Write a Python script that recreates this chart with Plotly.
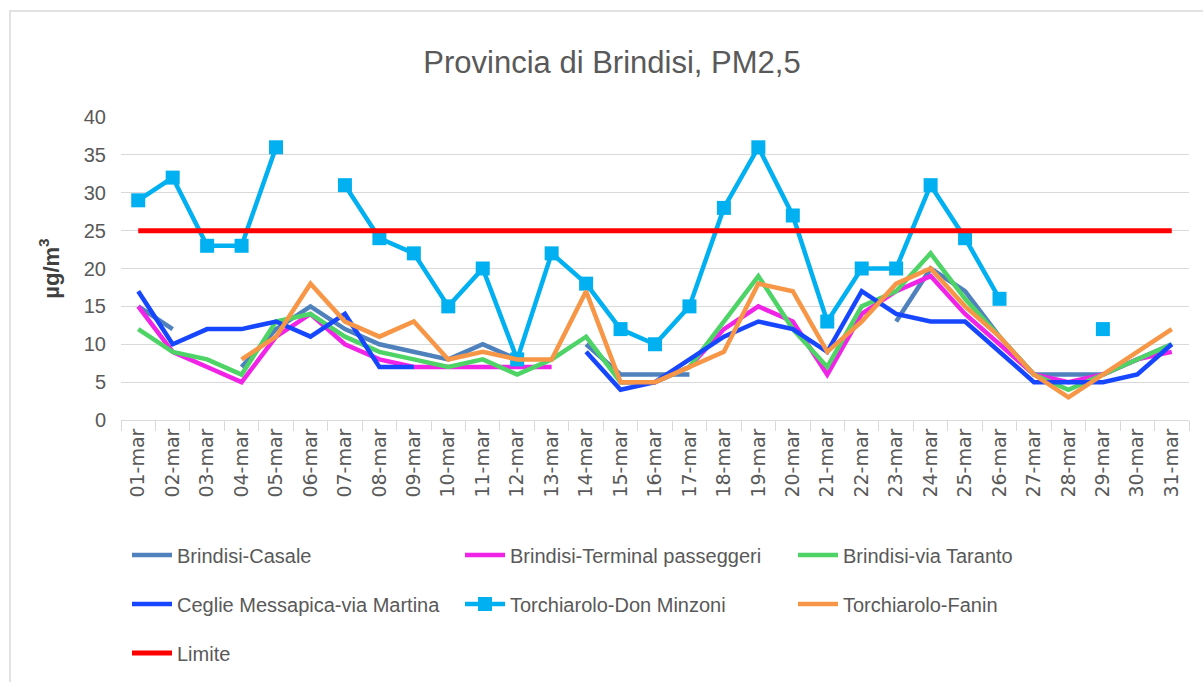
import plotly.graph_objects as go

days = ["01-mar", "02-mar", "03-mar", "04-mar", "05-mar", "06-mar", "07-mar", "08-mar",
        "09-mar", "10-mar", "11-mar", "12-mar", "13-mar", "14-mar", "15-mar", "16-mar",
        "17-mar", "18-mar", "19-mar", "20-mar", "21-mar", "22-mar", "23-mar", "24-mar",
        "25-mar", "26-mar", "27-mar", "28-mar", "29-mar", "30-mar", "31-mar"]

brindisi_casale = [15, 12, None, 7, 12, 15, 12, 10, 9, 8, 10, 8, None, 10, 6, 6,
                   6, None, None, None, None, None, 13, 20, 17, 11, 6, 6, 6, 8, 10]
brindisi_terminal = [15, 9, 7, 5, 11, 14, 10, 8, 7, 7, 7, 7, 7, None, 5, 5,
                     7, 12, 15, 13, 6, 14, 17, 19, 14, 10, 6, 5, 6, 8, 9]
brindisi_taranto = [12, 9, 8, 6, 13, 14, 11, 9, 8, 7, 8, 6, 8, 11, 5, 5,
                    7, 13, 19, 12, 7, 15, 17, 22, 16, 11, 6, 4, 6, 8, 10]
ceglie_martina = [17, 10, 12, 12, 13, 11, 14, 7, 7, None, None, None, None, 9, 4, 5,
                  8, 11, 13, 12, 9, 17, 14, 13, 13, 9, 5, 5, 5, 6, 10]
torchiarolo_minzoni = [29, 32, 23, 23, 36, None, 31, 24, 22, 15, 20, 8, 22, 18, 12, 10,
                       15, 28, 36, 27, 13, 20, 20, 31, 24, 16, None, None, 12, None, None]
torchiarolo_fanin = [None, None, None, 8, 11, 18, 13, 11, 13, 8, 9, 8, 8, 17, 5, 5,
                     7, 9, 18, 17, 9, 13, 18, 20, 15, 11, 6, 3, 6, 9, 12]
limite = [25, 25, 25, 25, 25, 25, 25, 25, 25, 25, 25, 25, 25, 25, 25, 25,
          25, 25, 25, 25, 25, 25, 25, 25, 25, 25, 25, 25, 25, 25, 25]

series_names = ["Brindisi-Casale", "Brindisi-Terminal passeggeri", "Brindisi-via Taranto",
                "Ceglie Messapica-via Martina", "Torchiarolo-Don Minzoni", "Torchiarolo-Fanin",
                "Limite"]
series_values = [brindisi_casale, brindisi_terminal, brindisi_taranto, ceglie_martina,
                 torchiarolo_minzoni, torchiarolo_fanin, limite]
series_colors = ["#4F81BD", "#F023E6", "#4ED466", "#1746FF", "#00B0F0", "#F79646", "#FF0000"]
series_legend = ["legend", "legend", "legend", "legend2", "legend2", "legend2", "legend3"]

W, H = 1203, 682
L, R, T, B = 121, 14, 117, 262
PW, PH = W - L - R, H - T - B

def px_x(x):
    return (x - L) / PW

def px_y(y):
    return (H - B - y) / PH

SANS = "Liberation Sans, Arial, sans-serif"
GRAY = "#595959"

fig = go.Figure()
for name, vals, col, lg in zip(series_names, series_values, series_colors, series_legend):
    is_sq = name == "Torchiarolo-Don Minzoni"
    fig.add_trace(go.Scatter(
        x=days, y=vals, name=name, legend=lg,
        mode="lines+markers" if is_sq else "lines",
        line=dict(color=col, width=5 if name == "Limite" else 4.5),
        marker=dict(symbol="square", size=14, color=col) if is_sq else None,
        connectgaps=False,
    ))

legend_common = dict(orientation="h", xanchor="left", yanchor="middle",
                     entrywidth=278, itemwidth=40,
                     font=dict(family=SANS, size=20, color=GRAY),
                     bgcolor="rgba(0,0,0,0)")

fig.update_layout(
    width=W, height=H,
    template="none",
    paper_bgcolor="white", plot_bgcolor="white",
    margin=dict(l=L, r=R, t=T, b=B, autoexpand=False),
    title=dict(text="Provincia di Brindisi, PM2,5", x=612 / W, xref="container",
               xanchor="center", y=1 - 62 / H, yref="container", yanchor="middle",
               font=dict(family=SANS, size=31, color=GRAY)),
    xaxis=dict(type="category", range=[-0.5, 30.5], showgrid=False, zeroline=False,
               showline=True, linecolor="#D9D9D9", linewidth=1,
               ticks="outside", tickson="boundaries", ticklen=10, tickcolor="#D9D9D9",
               tickwidth=1, tickangle=-90, automargin=False,
               tickfont=dict(family="DejaVu Sans, sans-serif", size=19, color=GRAY)),
    yaxis=dict(range=[0, 40], dtick=5, tick0=0, showgrid=True, gridcolor="#D9D9D9",
               gridwidth=1, zeroline=False, showline=False, ticks="", automargin=False,
               ticklabelstandoff=14,
               tickfont=dict(family=SANS, size=20, color=GRAY),
               title=dict(text="<b>µg/m<sup>3</sup></b>", standoff=18,
                          font=dict(family=SANS, size=22, color="#404040"))),
    legend=dict(legend_common, x=px_x(127), y=px_y(555)),
    legend2=dict(legend_common, x=px_x(127), y=px_y(604)),
    legend3=dict(legend_common, x=px_x(127), y=px_y(653)),
    showlegend=True,
    shapes=[dict(type="path", xref="paper", yref="paper",
                 path=f"M {px_x(10)},{px_y(690)} L {px_x(10)},{px_y(11)} L {px_x(1210)},{px_y(11)}",
                 line=dict(color="#D9D9D9", width=1.5), layer="below")],
)

fig.write_html("out.html",
               config={"displayModeBar": False},
               post_script="document.body.style.margin='0px';document.body.style.overflow='hidden';")
